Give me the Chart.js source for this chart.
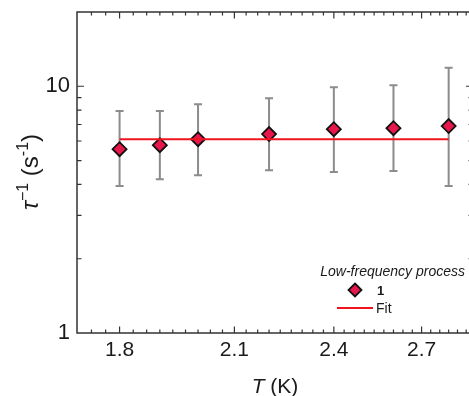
<!DOCTYPE html>
<html>
<head>
<meta charset="utf-8">
<script src="https://cdn.jsdelivr.net/npm/chart.js@4.4.1/dist/chart.umd.min.js"></script>
<style>
html, body { margin: 0; padding: 0; background: #fff; overflow: hidden; }
#wrap { position: absolute; left: 0; top: 0; width: 478px; height: 396px; }
</style>
</head>
<body>
<div id="wrap"><canvas id="chart" width="478" height="396"></canvas></div>
<script>
// data
var temps = [1.8, 1.9, 2.0, 2.2, 2.4, 2.6, 2.8];
var rates = [5.56, 5.77, 6.1, 6.4, 6.7, 6.76, 6.9];
var rateHigh = [7.93, 7.93, 8.45, 8.94, 9.9, 10.1, 11.9];
var rateLow = [3.94, 4.2, 4.36, 4.57, 4.49, 4.53, 3.94];
var fitT = [1.8, 2.8];
var fitRate = [6.1, 6.1];
var xTicks = [1.8, 2.1, 2.4, 2.7];
var yTicks = [1, 10];
var yMinor = [2, 3, 4, 5, 6, 7, 8, 9, 20];
var legendTitle = 'Low-frequency process';
var seriesName = '1';
var fitName = 'Fit';

var font = "'Liberation Sans', Arial, sans-serif";
var ink = '#1a1a1a';

// minor x ticks every 1/30 K
var xMinor = [];
for (var k = 0; k <= 36; k++) xMinor.push(1.7 + k / 30);

function drawRich(ctx, parts, x, y) {
  var w = 0;
  parts.forEach(function(p) { ctx.font = p.font; w += ctx.measureText(p.t).width; });
  var sx = x - w / 2;
  parts.forEach(function(p) {
    ctx.font = p.font;
    ctx.fillText(p.t, sx, y + (p.dy || 0));
    sx += ctx.measureText(p.t).width;
  });
}

function noPad(s) {
  s.paddingTop = 0; s.paddingBottom = 0; s.paddingLeft = 0; s.paddingRight = 0;
}

var framePlugin = {
  id: 'frame',
  beforeDatasetsDraw: function(chart) {
    var ctx = chart.ctx, xs = chart.scales.x, ys = chart.scales.y;
    ctx.save();
    ctx.strokeStyle = '#8c8c8c';
    ctx.lineWidth = 2;
    temps.forEach(function(t, i) {
      var px = xs.getPixelForValue(t);
      var top = ys.getPixelForValue(rateHigh[i]);
      var bot = ys.getPixelForValue(rateLow[i]);
      ctx.beginPath();
      ctx.moveTo(px, top); ctx.lineTo(px, bot);
      ctx.moveTo(px - 4, top); ctx.lineTo(px + 4, top);
      ctx.moveTo(px - 4, bot); ctx.lineTo(px + 4, bot);
      ctx.stroke();
    });
    ctx.restore();
  },
  afterDraw: function(chart) {
    var ctx = chart.ctx, a = chart.chartArea, xs = chart.scales.x, ys = chart.scales.y;
    ctx.save();
    ctx.strokeStyle = '#333';
    ctx.lineWidth = 1.5;
    ctx.strokeRect(a.left, a.top, a.right - a.left, a.bottom - a.top);

    ctx.lineWidth = 1.2;
    ctx.beginPath();
    function xt(v, len) {
      var px = xs.getPixelForValue(v);
      if (px < a.left + 1 || px > a.right - 1) return;
      ctx.moveTo(px, a.bottom); ctx.lineTo(px, a.bottom - len);
      ctx.moveTo(px, a.top); ctx.lineTo(px, a.top + len);
    }
    function yt(v, len) {
      var py = ys.getPixelForValue(v);
      if (py < a.top + 1 || py > a.bottom - 1) return;
      ctx.moveTo(a.left, py); ctx.lineTo(a.left + len, py);
      ctx.moveTo(a.right, py); ctx.lineTo(a.right - len, py);
    }
    xMinor.forEach(function(v) { xt(v, 3.5); });
    xTicks.forEach(function(v) { xt(v, 6.5); });
    yMinor.forEach(function(v) { yt(v, 4.5); });
    yTicks.forEach(function(v) { yt(v, 7); });
    ctx.stroke();

    // axis titles
    ctx.fillStyle = ink;
    ctx.textBaseline = 'alphabetic';
    drawRich(ctx, [
      { t: 'T', font: 'italic 21px ' + font },
      { t: ' (K)', font: '21px ' + font }
    ], 275, 393);

    ctx.save();
    ctx.translate(38, 172);
    ctx.rotate(-Math.PI / 2);
    drawRich(ctx, [
      { t: '\u03c4', font: 'italic 24px ' + font },
      { t: '\u22121', font: '16px ' + font, dy: -10 },
      { t: ' (s', font: '24px ' + font },
      { t: '-1', font: '16px ' + font, dy: -10 },
      { t: ')', font: '24px ' + font }
    ], 0, 0);
    ctx.restore();

    // legend
    ctx.textAlign = 'right';
    ctx.font = 'italic 14px ' + font;
    ctx.fillText(legendTitle, 465, 276);
    ctx.textAlign = 'left';
    ctx.beginPath();
    ctx.moveTo(355, 283.5); ctx.lineTo(361.5, 290); ctx.lineTo(355, 296.5); ctx.lineTo(348.5, 290);
    ctx.closePath();
    ctx.fillStyle = '#e8174b';
    ctx.fill();
    ctx.strokeStyle = '#111';
    ctx.lineWidth = 1.8;
    ctx.stroke();
    ctx.fillStyle = ink;
    ctx.font = 'bold 13px ' + font;
    ctx.fillText(seriesName, 377, 295);
    ctx.strokeStyle = '#f0141e';
    ctx.lineWidth = 2;
    ctx.beginPath();
    ctx.moveTo(337, 308); ctx.lineTo(373, 308);
    ctx.stroke();
    ctx.font = '14px ' + font;
    ctx.fillText(fitName, 376, 313);
    ctx.restore();
  }
};

var ctx = document.getElementById('chart').getContext('2d');
var chart = new Chart(ctx, {
  type: 'scatter',
  data: {
    datasets: [{
      label: fitName,
      data: fitT.map(function(t, i) { return { x: t, y: fitRate[i] }; }),
      showLine: true,
      borderColor: '#f0141e',
      borderWidth: 2,
      pointRadius: 0
    }, {
      label: seriesName,
      data: temps.map(function(t, i) { return { x: t, y: rates[i] }; }),
      pointStyle: 'rectRot',
      pointRadius: 7,
      backgroundColor: '#e8174b',
      borderColor: '#111',
      borderWidth: 1.8
    }]
  },
  options: {
    responsive: false,
    devicePixelRatio: 1,
    animation: false,
    layout: { autoPadding: false, padding: { top: 12, right: 5, left: 0, bottom: 0 } },
    plugins: { legend: { display: false }, tooltip: { enabled: false } },
    scales: {
      x: {
        type: 'logarithmic',
        min: 1.7,
        max: 2.893,
        afterBuildTicks: function(s) { s.ticks = xTicks.map(function(v) { return { value: v }; }); },
        afterFit: function(s) { s.height = 63; noPad(s); },
        grid: { display: false, drawTicks: false },
        border: { display: false },
        ticks: {
          autoSkip: false,
          maxRotation: 0,
          padding: 5,
          color: ink,
          font: { size: 21, family: font },
          callback: function(v) { return Number(v).toFixed(1); }
        }
      },
      y: {
        type: 'logarithmic',
        min: 1,
        max: 20,
        afterBuildTicks: function(s) { s.ticks = yTicks.map(function(v) { return { value: v }; }); },
        afterFit: function(s) { s.width = 77; noPad(s); },
        grid: { display: false, drawTicks: false },
        border: { display: false },
        ticks: {
          padding: 7,
          color: ink,
          font: { size: 22, family: font },
          callback: function(v) { return String(v); }
        }
      }
    }
  },
  plugins: [framePlugin]
});
</script>
</body>
</html>
